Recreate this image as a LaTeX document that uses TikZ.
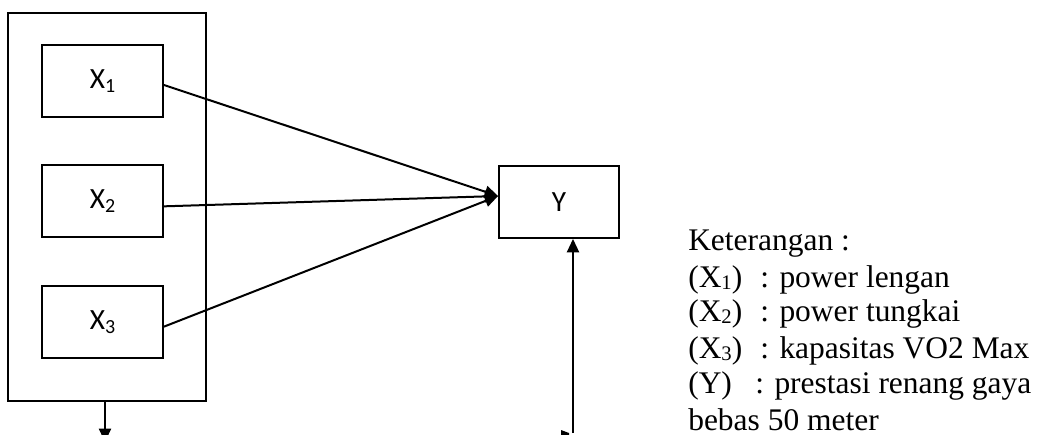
\documentclass[tikz,border=0pt]{standalone}
\usepackage{fontspec}
\setmainfont{Liberation Serif}
\setsansfont{Carlito}
\usetikzlibrary{arrows.meta}
\newcommand\lsub[1]{\raisebox{-2pt}{\fontsize{15.5}{15.5}\selectfont #1}}
\newcommand\bsub[1]{\raisebox{-2.5pt}{\fontsize{15}{15}\selectfont #1}}
\begin{document}
\begin{tikzpicture}[x=0.75pt,y=-0.75pt,
  box/.style={draw,line width=1.4pt,inner sep=0pt,minimum width=90.75pt,minimum height=54pt,font=\sffamily\fontsize{22}{24}\selectfont},
  conn/.style={line width=1.5pt},
  arr/.style={conn,-{Triangle[length=10pt,width=9pt]}},
  leg/.style={anchor=base west,inner sep=0pt,font=\fontsize{23.6}{27}\selectfont}]
\useasboundingbox (0,0) rectangle (1038,435);
\clip (0,0) rectangle (1038,435);
\node[draw,line width=1.4pt,minimum width=148.5pt,minimum height=291pt,inner sep=0pt] (outer) at (107,207) {};
\node[box] (X1) at (102.5,81) {X\bsub{1}};
\node[box] (X2) at (102.5,201) {X\bsub{2}};
\node[box] (X3) at (102.5,322) {X\bsub{3}};
\node[box,minimum width=90pt] (Y) at (559,202) {Y};
\coordinate (yin) at ([yshift=4.5pt]Y.west);
\draw[arr] ([yshift=-3pt]X1.east) -- (yin);
\draw[arr] ([yshift=-4pt]X2.east) -- (yin);
\draw[arr] ([yshift=-3.5pt]X3.east) -- (yin);
\coordinate (outend) at (105,442);
\draw[arr] (outer.south -| outend) -- (outend);
\coordinate (ystart) at (573,433);
\draw[arr] (ystart) -- (Y.south -| ystart);
\fill (561,430) -- (569,433) -- (569,436) -- (561,436) -- cycle;
\node[leg] (k) at (688,250) {Keterangan :};
\node[leg] (l1) at (688,287) {(X\lsub{1})};
\node[leg] (d1) at (760,287) {: power lengan};
\node[leg] (l2) at (688,321) {(X\lsub{2})};
\node[leg] (d2) at (760,321) {: power tungkai};
\node[leg] (l3) at (688,358) {(X\lsub{3})};
\node[leg] (d3) at (760,358) {: kapasitas VO2 Max};
\node[leg] (l4) at (688,393) {(Y)};
\node[leg] (d4) at (755,393) {: prestasi renang gaya};
\node[leg] (d5) at (688,430) {bebas 50 meter};
\end{tikzpicture}
\end{document}
